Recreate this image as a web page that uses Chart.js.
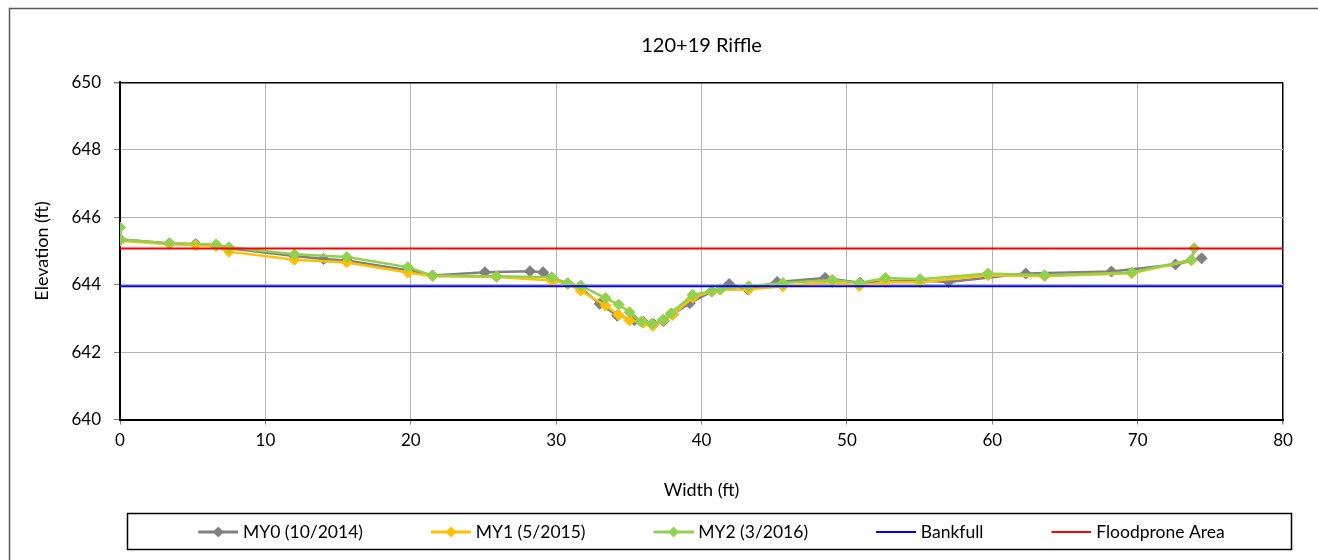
<!DOCTYPE html>
<html>
<head>
<meta charset="utf-8">
<title>120+19 Riffle</title>
<script src="https://cdn.jsdelivr.net/npm/chart.js@4.4.1/dist/chart.umd.min.js"></script>
<style>
  html, body { margin: 0; padding: 0; background: #fff; }
</style>
</head>
<body>
<canvas id="riffle-xs" width="1318" height="560"></canvas>
<script>
// cross section survey, width (ft) vs elevation (ft)
var my0Width = [0, 3.4, 5.2, 6.6, 7.5, 12.0, 14.0, 15.6, 19.9, 21.5, 25.1, 28.2, 29.1, 29.7, 30.8, 31.7, 33.0, 34.2, 35.4, 36.0, 36.7, 37.4, 38.0, 39.2, 40.7, 41.9, 43.2, 45.2, 48.5, 50.9, 52.7, 55.0, 57.0, 62.3, 68.2, 72.6, 74.4];
var my0Elev = [645.35, 645.22, 645.2, 645.17, 645.08, 644.85, 644.76, 644.72, 644.42, 644.27, 644.37, 644.4, 644.37, 644.2, 644.04, 643.9, 643.43, 643.08, 642.95, 642.9, 642.83, 642.92, 643.12, 643.45, 643.8, 644.02, 643.85, 644.08, 644.2, 644.06, 644.1, 644.12, 644.08, 644.33, 644.39, 644.6, 644.78];

var my1Width = [0, 3.4, 5.2, 6.6, 7.5, 12.0, 15.6, 19.8, 21.5, 25.9, 29.7, 30.8, 31.7, 33.4, 34.3, 35.05, 36.0, 36.65, 37.4, 38.0, 39.4, 40.7, 41.3, 43.25, 45.6, 49.0, 50.85, 52.65, 55.05, 59.7, 63.6, 69.6, 73.7];
var my1Elev = [645.3, 645.2, 645.17, 645.14, 644.98, 644.74, 644.66, 644.36, 644.25, 644.23, 644.12, 644.02, 643.82, 643.38, 643.1, 642.94, 642.87, 642.78, 642.95, 643.1, 643.62, 643.8, 643.85, 643.86, 643.95, 644.08, 643.96, 644.08, 644.07, 644.28, 644.25, 644.34, 644.72];

var my2Width = [0, 0.05, 3.4, 6.6, 7.5, 12.0, 15.6, 19.8, 21.5, 25.9, 29.7, 30.8, 31.7, 33.4, 34.3, 35.05, 35.85, 36.6, 37.35, 37.9, 39.4, 40.7, 41.3, 43.25, 45.6, 49.0, 50.85, 52.65, 55.05, 59.7, 63.6, 69.6, 73.7, 73.9];
var my2Elev = [645.7, 645.33, 645.23, 645.19, 645.11, 644.9, 644.82, 644.52, 644.27, 644.25, 644.22, 644.03, 643.97, 643.6, 643.41, 643.18, 642.9, 642.84, 642.96, 643.15, 643.7, 643.8, 643.87, 643.95, 644.05, 644.14, 644.05, 644.2, 644.16, 644.33, 644.28, 644.36, 644.74, 645.08];

var bankfullWidth = [0, 80];
var bankfullElev = [643.95, 643.95];
var floodproneWidth = [0, 80];
var floodproneElev = [645.07, 645.07];

var seriesNames = ['MY0 (10/2014)', 'MY1 (5/2015)', 'MY2 (3/2016)', 'Bankfull', 'Floodprone Area'];
var seriesColors = ['#808080', '#ffc000', '#92d050', '#0000ff', '#ff0000'];

var xTicks = [0, 10, 20, 30, 40, 50, 60, 70, 80];
var yTicks = [640, 642, 644, 646, 648, 650];

function toPoints(xs, ys) {
  return xs.map(function (x, i) { return { x: x, y: ys[i] }; });
}

// legend swatch: a short line (with diamond for survey series), right aligned in the box
var SWATCH_BOX = 94;
function legendIcon(color, diamond) {
  var c = document.createElement('canvas');
  c.width = SWATCH_BOX + 8;
  c.height = 14;
  var g = c.getContext('2d');
  var x1 = c.width, x0 = x1 - 40, mid = x0 + 20;
  g.strokeStyle = color;
  g.lineWidth = diamond ? 3 : 2;
  g.beginPath();
  g.moveTo(x0, 7);
  g.lineTo(x1, 7);
  g.stroke();
  if (diamond) {
    g.fillStyle = color;
    g.beginPath();
    g.moveTo(mid, 1.5);
    g.lineTo(mid + 5.5, 7);
    g.lineTo(mid, 12.5);
    g.lineTo(mid - 5.5, 7);
    g.closePath();
    g.fill();
  }
  return c;
}
var legendIcons = seriesColors.map(function (col, i) { return legendIcon(col, i < 3); });

// page frame, the box round the legend, and a nudge of the legend row to the right
var framePlugin = {
  id: 'frames',
  afterLayout: function (chart) {
    chart.legend.left += 19;
    chart.legend.right += 19;
  },
  beforeDraw: function (chart) {
    var ctx = chart.ctx;
    ctx.save();
    ctx.fillStyle = '#fff';
    ctx.fillRect(0, 0, chart.width, chart.height);
    ctx.strokeStyle = '#595959';
    ctx.lineWidth = 1.5;
    ctx.strokeRect(9.5, 8.5, chart.width + 20, chart.height + 20);
    ctx.restore();
  },
  afterDraw: function (chart) {
    var lg = chart.legend;
    var ctx = chart.ctx;
    ctx.save();
    ctx.strokeStyle = '#000';
    ctx.lineWidth = 1.5;
    ctx.strokeRect(127.5, Math.round(lg.top) + 0.5, 1164, Math.round(lg.height) - 2);
    ctx.restore();
  }
};

function surveySet(idx, xs, ys, order) {
  return {
    label: seriesNames[idx],
    data: toPoints(xs, ys),
    borderColor: seriesColors[idx],
    backgroundColor: seriesColors[idx],
    borderWidth: 2.5,
    pointStyle: 'rectRot',
    pointRadius: 5.5,
    pointBorderWidth: 1,
    tension: 0,
    order: order
  };
}

function levelSet(idx, xs, ys, order) {
  return {
    label: seriesNames[idx],
    data: toPoints(xs, ys),
    borderColor: seriesColors[idx],
    backgroundColor: seriesColors[idx],
    borderWidth: 2,
    pointRadius: 0,
    tension: 0,
    order: order
  };
}

Chart.defaults.font.family = 'Lato, Calibri, sans-serif';
Chart.defaults.color = '#000';

var riffle = new Chart(document.getElementById('riffle-xs'), {
  type: 'line',
  data: {
    datasets: [
      surveySet(0, my0Width, my0Elev, 5),
      surveySet(1, my1Width, my1Elev, 4),
      surveySet(2, my2Width, my2Elev, 3),
      levelSet(3, bankfullWidth, bankfullElev, 2),
      levelSet(4, floodproneWidth, floodproneElev, 1)
    ]
  },
  options: {
    responsive: false,
    animation: false,
    events: [],
    layout: { padding: { left: 44, right: 35, top: 0, bottom: 9.25 } },
    scales: {
      x: {
        type: 'linear',
        min: 0,
        max: 80,
        afterBuildTicks: function (scale) {
          scale.ticks = xTicks.map(function (v) { return { value: v }; });
        },
        afterFit: function (scale) { scale.height = 93.75; },
        ticks: { font: { size: 17 }, padding: 6.3, maxRotation: 0 },
        grid: {
          color: function (c) { return c.tick && c.tick.value === 80 ? '#000' : '#b4b4b4'; },
          lineWidth: function (c) { return c.tick && c.tick.value === 80 ? 1.5 : 1; },
          tickLength: 5,
          tickColor: '#808080'
        },
        border: { color: '#000', width: 2 },
        title: { display: true, text: 'Width (ft)', font: { size: 18 }, padding: { top: 4, bottom: 12.45 } }
      },
      y: {
        type: 'linear',
        min: 640,
        max: 650,
        afterBuildTicks: function (scale) {
          scale.ticks = yTicks.map(function (v) { return { value: v }; });
        },
        afterFit: function (scale) { scale.width = 76; },
        ticks: { font: { size: 17 }, padding: 13 },
        grid: {
          color: function (c) { return c.tick && c.tick.value === 650 ? '#000' : '#b4b4b4'; },
          lineWidth: function (c) { return c.tick && c.tick.value === 650 ? 1.5 : 1; },
          tickLength: 6,
          tickColor: '#808080'
        },
        border: { color: '#000', width: 2 },
        title: { display: true, text: 'Elevation (ft)', font: { size: 18 }, padding: { top: -12.8, bottom: 0 } }
      }
    },
    plugins: {
      title: {
        display: true,
        text: '120+19 Riffle',
        fullSize: false,
        font: { size: 20, weight: 'normal' },
        padding: { top: 34, bottom: 24.4 }
      },
      legend: {
        position: 'bottom',
        labels: {
          usePointStyle: true,
          pointStyleWidth: SWATCH_BOX,
          padding: 10,
          font: { size: 17.5 },
          sort: function (a, b) { return a.datasetIndex - b.datasetIndex; },
          generateLabels: function (chart) {
            var items = Chart.defaults.plugins.legend.labels.generateLabels(chart);
            items.forEach(function (it) { it.pointStyle = legendIcons[it.datasetIndex]; });
            return items;
          }
        }
      },
      tooltip: { enabled: false }
    }
  },
  plugins: [framePlugin]
});
</script>
</body>
</html>
